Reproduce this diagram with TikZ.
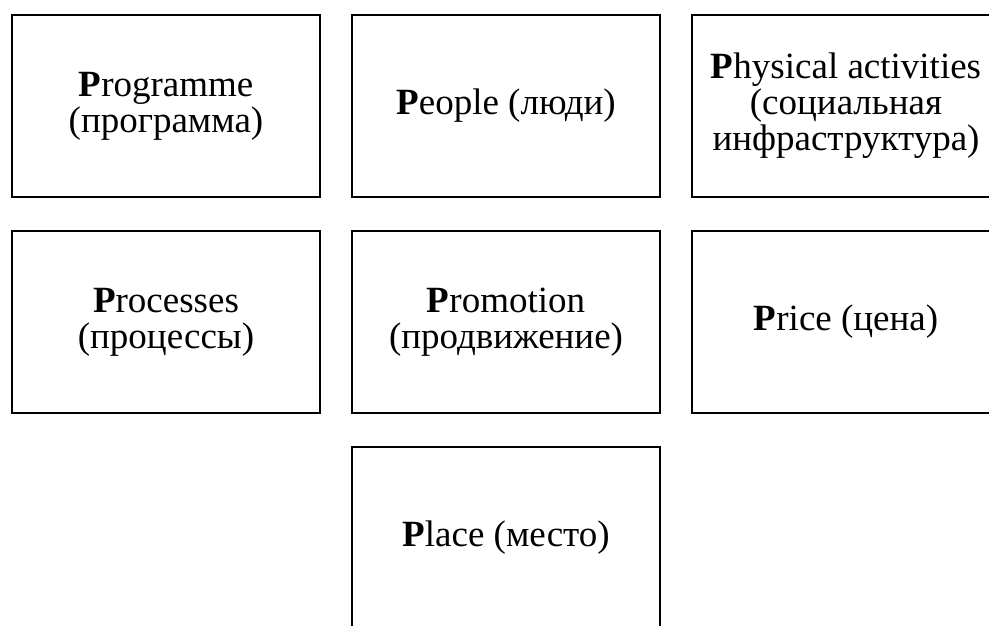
\documentclass[tikz,border=0pt]{standalone}
\usepackage{fontspec}
\setmainfont{Liberation Serif}
\usetikzlibrary{positioning}

\begin{document}
\begin{tikzpicture}[x=1pt,y=1pt,node distance=32pt and 30pt,
    pbox/.style={draw,line width=2pt,minimum width=308pt,minimum height=182pt,
      align=center,inner sep=2pt,font=\fontsize{37}{36}\selectfont}]
  \clip (0,0) rectangle (989,-626);
  \node[pbox] (prog) at (166,-106) {\textbf{P}rogramme\\(программа)};
  \node[pbox,right=of prog] (people) {\textbf{P}eople (люди)};
  \node[pbox,right=of people] (phys) {\textbf{P}hysical activities\\(социальная\\инфраструктура)};
  \node[pbox,below=of prog] (proc) {\textbf{P}rocesses\\(процессы)};
  \node[pbox,below=of people] (promo) {\textbf{P}romotion\\(продвижение)};
  \node[pbox,below=of phys] (price) {\textbf{P}rice (цена)};
  \node[pbox,below=of promo] (place) {\textbf{P}lace (место)};
\end{tikzpicture}
\end{document}
